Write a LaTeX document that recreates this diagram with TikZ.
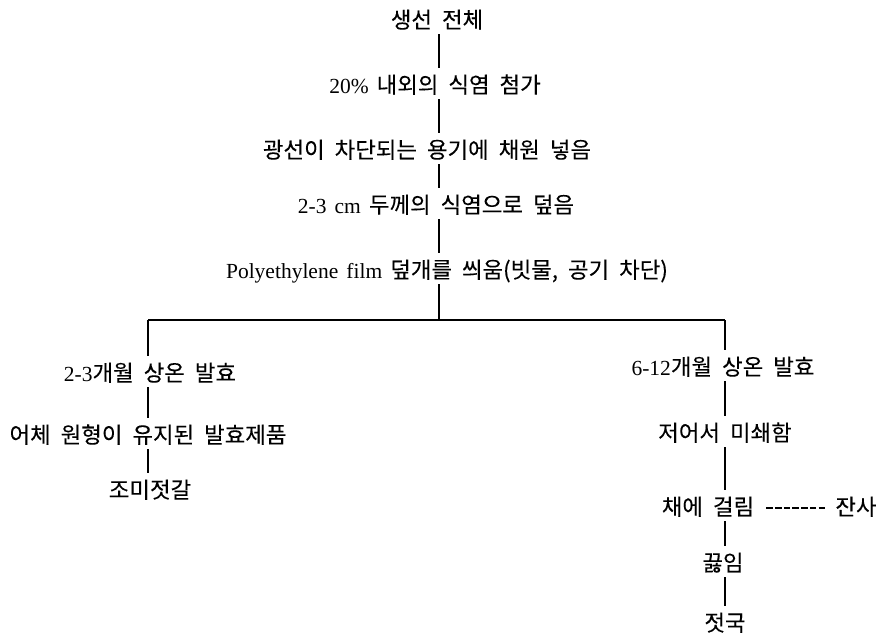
\documentclass[tikz,border=0pt]{standalone}
\usepackage{fontspec}
\setmainfont[WordSpace=1.5]{Liberation Serif}
\newfontfamily\kr[WordSpace=2.0,Scale=1.04,FakeBold=0.12]{Noto Sans CJK KR}
\newcommand{\hg}[1]{{\kr #1}}
\begin{document}
\begin{tikzpicture}[x=1pt,y=-1pt,
  lbl/.style={anchor=base,inner sep=0pt,text height=25pt,text depth=6pt,font=\fontsize{21.5}{24}\selectfont},
  conn/.style={line width=1.2pt},
  dashline/.style={line width=1.4pt,dash pattern=on 6.5pt off 2.2pt}]
\useasboundingbox (0,0) rectangle (877,632);
\coordinate (tr) at (439,0);
\coordinate (jm) at (439,320);
\coordinate (jl) at (148,320);
\coordinate (jr) at (725,320);
% main chain
\node[lbl] (a1) at (437,28) {\hg{생선 전체}};
\node[lbl] (a2) at (435,93) {20\% \hg{내외의 식염 첨가}};
\node[lbl] (a3) at (427,158) {\hg{광선이 차단되는 용기에 채원 넣음}};
\node[lbl] (a4) at (436,213) {2-3 cm \hg{두께의 식염으로 덮음}};
\node[lbl] (a5) at (447,278) {Polyethylene film \hg{덮개를 씌움(빗물, 공기 차단)}};
% left branch
\node[lbl] (l1) at (150,381) {2-3\hg{개월 상온 발효}};
\node[lbl] (l2) at (148,443) {\hg{어체 원형이 유지된 발효제품}};
\node[lbl] (l3) at (150,498) {\hg{조미젓갈}};
% right branch
\node[lbl] (r1) at (723,375) {6-12\hg{개월 상온 발효}};
\node[lbl] (r2) at (725,441) {\hg{저어서 미쇄함}};
\node[lbl] (r3) at (708,515) {\hg{채에 걸림}};
\node[lbl] (r4) at (723,571) {\hg{끓임}};
\node[lbl] (r5) at (725,631) {\hg{젓국}};
\node[lbl] (js) at (856,515) {\hg{잔사}};
% connectors
\draw[conn] (a1.south -| tr) -- (a2.north -| tr);
\draw[conn] (a2.south -| tr) -- (a3.north -| tr);
\draw[conn] (a3.south -| tr) -- (a4.north -| tr);
\draw[conn] (a4.south -| tr) -- (a5.north -| tr);
\draw[conn] (a5.south -| tr) -- (jm);
\draw[conn] (jl) -- (jr);
\draw[conn] (jl) -- (l1.north -| jl);
\draw[conn] (l1.south -| jl) -- (l2.north -| jl);
\draw[conn] (l2.south -| jl) -- (l3.north -| jl);
\draw[conn] (jr) -- (r1.north -| jr);
\draw[conn] (r1.south -| jr) -- (r2.north -| jr);
\draw[conn] (r2.south -| jr) -- (r3.north -| jr);
\draw[conn] (r3.south -| jr) -- (r4.north -| jr);
\draw[conn] (r4.south -| jr) -- (r5.north -| jr);
\draw[dashline] ([shift={(12,-7)}]r3.base east) -- ([shift={(-8,-7)}]js.base west);
\end{tikzpicture}
\end{document}
